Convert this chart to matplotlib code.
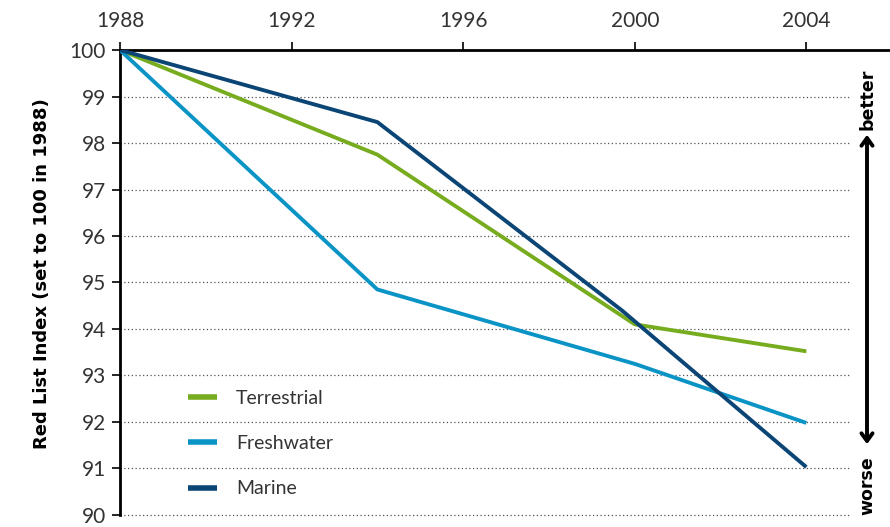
import numpy as np
import matplotlib.pyplot as plt

plt.rcParams['font.family'] = ['Lato', 'DejaVu Sans']

years_t = [1988, 1994, 2000, 2004]
terrestrial = [100, 97.75, 94.1, 93.52]
years_f = [1988, 1994, 2000, 2004]
freshwater = [100, 94.85, 93.25, 91.98]
years_m = [1988, 1994, 1999.7, 2004]
marine = [100, 98.45, 94.4, 91.03]

xticks = [1988, 1992, 1996, 2000, 2004]
yticks = list(range(90, 101))

fig = plt.figure(figsize=(8.9, 5.27), dpi=100)
ax = fig.add_axes([0.1348, 0.0228, 0.8652, 0.8823])

for y in yticks[:-1]:
    ax.plot([1988, 2005.0], [y, y], ls=(0, (1, 2)), color="#555555", lw=0.9,
            clip_on=False, zorder=1)

ax.plot(years_t, terrestrial, color="#77AC1F", lw=2.8, label="Terrestrial",
        solid_capstyle="butt", zorder=3)
ax.plot(years_f, freshwater, color="#0A94C6", lw=2.8, label="Freshwater",
        solid_capstyle="butt", zorder=3)
ax.plot(years_m, marine, color="#0B4575", lw=2.8, label="Marine",
        solid_capstyle="butt", zorder=3)

ax.set_xlim(1988, 2005.95)
ax.set_ylim(90, 100)
ax.xaxis.tick_top()
ax.set_xticks(xticks)
ax.set_yticks(yticks)
ax.tick_params(axis="x", direction="out", length=6, width=1.2, labelsize=15,
               pad=8, labelcolor="#333333")
ax.tick_params(axis="y", direction="out", length=6, width=1.2, labelsize=15,
               pad=4, labelcolor="#333333")
ax.spines["top"].set_linewidth(2)
ax.spines["left"].set_linewidth(2)
ax.spines["right"].set_visible(False)
ax.spines["bottom"].set_visible(False)

ax.set_ylabel("Red List Index (set to 100 in 1988)", fontsize=13,
              fontweight="bold", family="DejaVu Sans")
ax.yaxis.set_label_coords(-0.089, 0.52)

leg = ax.legend(loc="lower left", bbox_to_anchor=(0.065, 0.0), frameon=False,
                fontsize=14, handlelength=1.5, handletextpad=1.0,
                labelspacing=1.45)
for line in leg.get_lines():
    line.set_linewidth(4)
for txt in leg.get_texts():
    txt.set_color("#333333")

ax.annotate("", xy=(867 / 890, 1 - 132 / 527), xytext=(867 / 890, 1 - 447 / 527),
            xycoords="figure fraction", textcoords="figure fraction",
            arrowprops=dict(arrowstyle="<->,head_length=0.55,head_width=0.4",
                            lw=2.8, color="black"))
fig.text(867 / 890, 1 - 99 / 527, "better", rotation=90, ha="center",
         va="center", fontsize=12.5, fontweight="bold", family="DejaVu Sans")
fig.text(867 / 890, 1 - 486 / 527, "worse", rotation=90, ha="center",
         va="center", fontsize=12.5, fontweight="bold", family="DejaVu Sans")

fig.savefig("out.png", dpi=100)
